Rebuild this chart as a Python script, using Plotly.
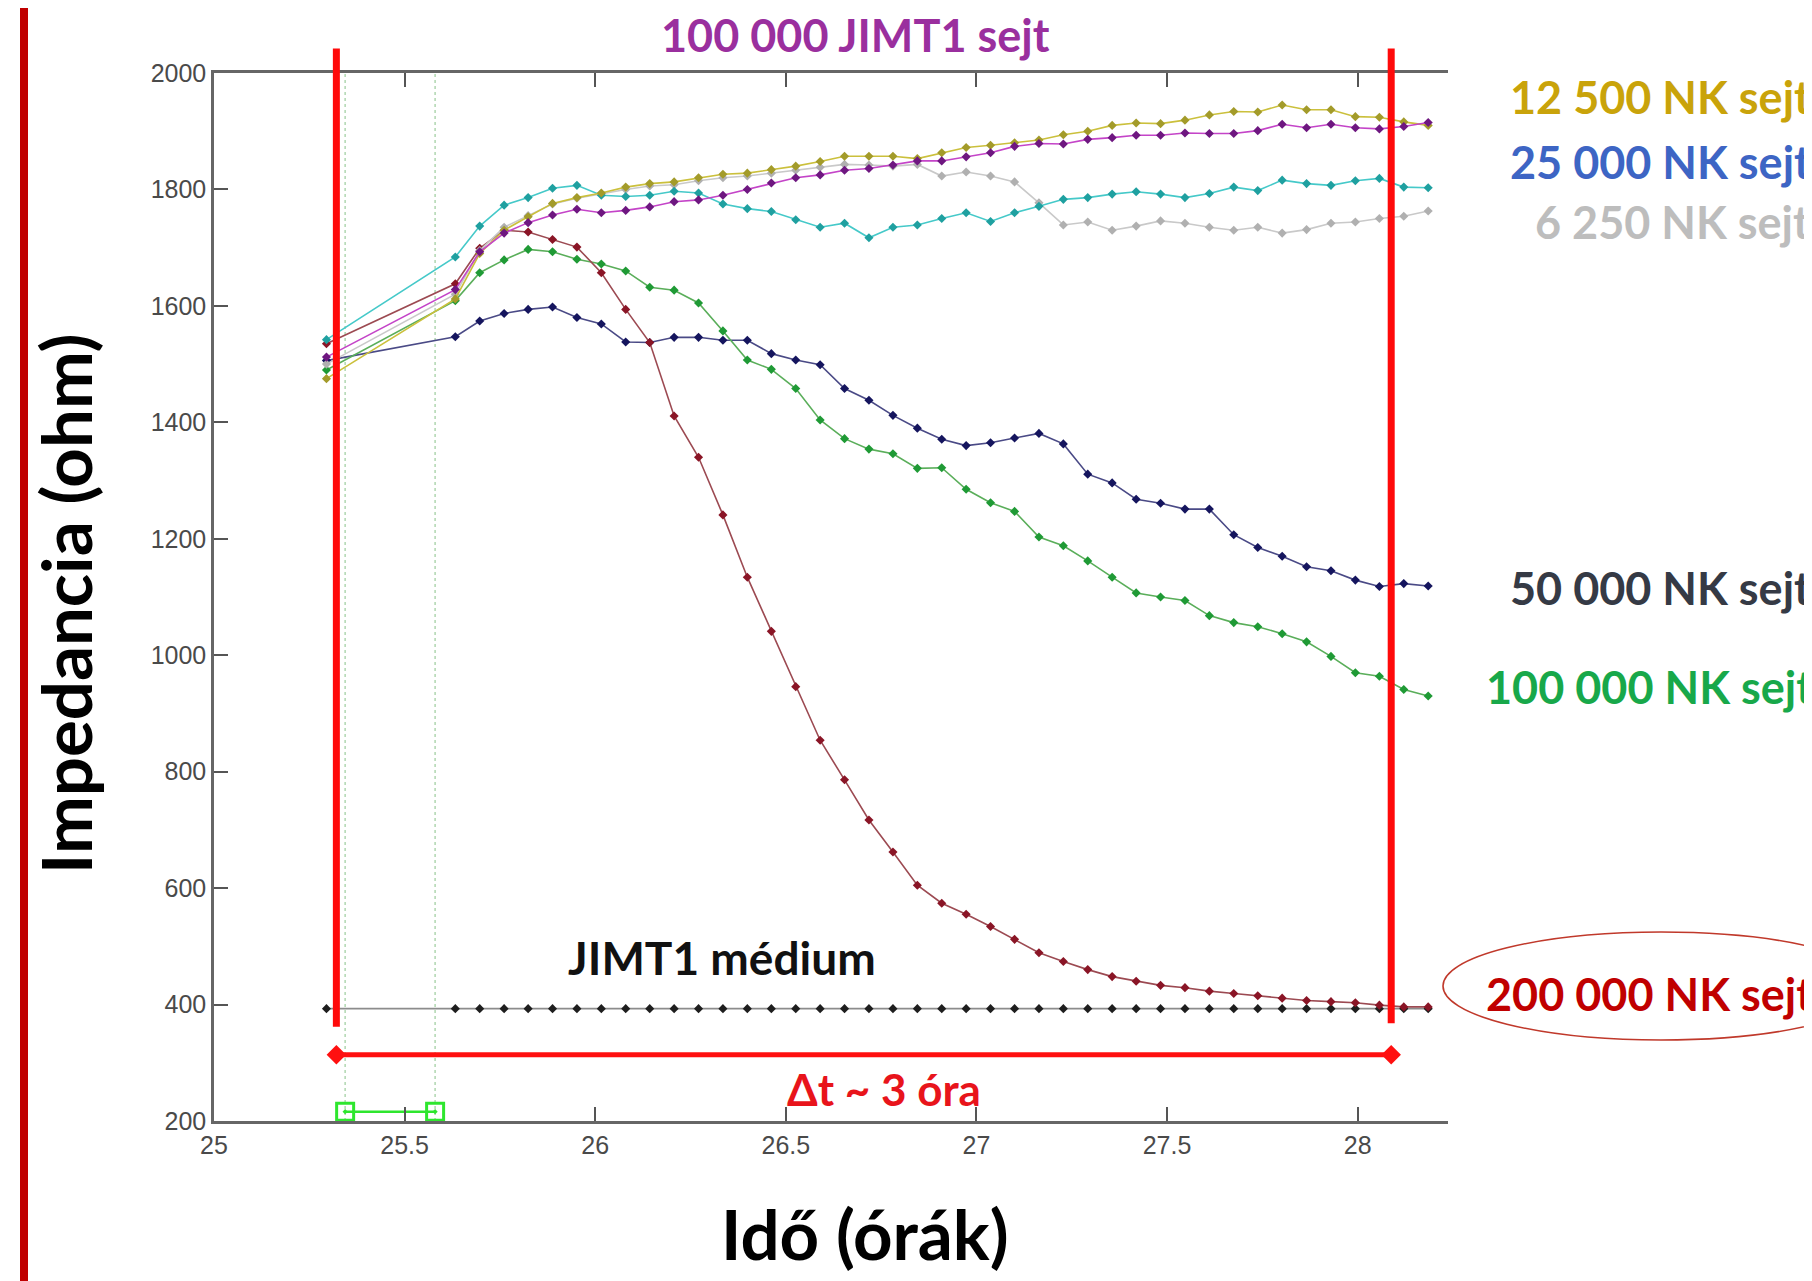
import plotly.graph_objects as go

# ---------------- data ----------------
time_h = [25.295,
          25.633, 25.697, 25.761, 25.824, 25.888, 25.952, 26.016, 26.080, 26.143, 26.207,
          26.271, 26.335, 26.399, 26.462, 26.526, 26.590, 26.654, 26.718, 26.781, 26.845,
          26.909, 26.973, 27.037, 27.100, 27.164, 27.228, 27.292, 27.356, 27.419, 27.483,
          27.547, 27.611, 27.675, 27.738, 27.802, 27.866, 27.930, 27.994, 28.057, 28.121,
          28.185]

nk_12500 = [1475,
            1612, 1690, 1730, 1753, 1776, 1786, 1794, 1804, 1810, 1813,
            1820, 1826, 1828, 1834, 1840, 1848, 1857, 1857, 1857, 1853,
            1863, 1872, 1876, 1880, 1885, 1894, 1900, 1910, 1914, 1913,
            1919, 1928, 1934, 1933, 1945, 1937, 1937, 1925, 1924, 1916,
            1910]
jimt1_only = [1512,
              1628, 1693, 1725, 1743, 1756, 1766, 1760, 1764, 1770, 1779,
              1782, 1790, 1800, 1811, 1820, 1825, 1833, 1836, 1842, 1849,
              1849, 1856, 1863, 1874, 1879, 1878, 1886, 1889, 1893, 1893,
              1897, 1896, 1896, 1901, 1912, 1906, 1912, 1906, 1904, 1908,
              1915]
nk_25000 = [1542,
            1684, 1737, 1773, 1786, 1802, 1807, 1790, 1788, 1790, 1797,
            1794, 1775, 1767, 1762, 1748, 1735, 1742, 1717, 1735, 1739,
            1750, 1760, 1745, 1760, 1771, 1783, 1786, 1792, 1796, 1792,
            1786, 1793, 1804, 1798, 1816, 1810, 1807, 1815, 1819, 1804,
            1803]
nk_6250 = [1500,
           1620, 1695, 1735, 1755, 1775, 1785, 1793, 1800, 1806, 1808,
           1815, 1820, 1823, 1828, 1833, 1838, 1843, 1842, 1840, 1843,
           1823, 1830, 1823, 1813, 1777, 1739, 1744, 1730, 1737, 1746,
           1742, 1735, 1730, 1735, 1725, 1731, 1742, 1744, 1750, 1754,
           1763]
nk_50000 = [1506,
            1547, 1574, 1587, 1594, 1598, 1580, 1569, 1538, 1537, 1546,
            1546, 1541, 1541, 1518, 1507, 1499, 1458, 1438, 1412, 1390,
            1371, 1360, 1365, 1373, 1381, 1363, 1311, 1296, 1268, 1261,
            1251, 1251, 1207, 1185, 1170, 1152, 1145, 1129, 1118, 1123,
            1119]
nk_100000 = [1490,
             1609, 1657, 1679, 1697, 1693, 1680, 1672, 1660, 1632, 1627,
             1605, 1557, 1507, 1491, 1458, 1404, 1372, 1354, 1346, 1321,
             1322, 1285, 1262, 1247, 1203, 1188, 1162, 1134, 1107, 1100,
             1094, 1068, 1056, 1049, 1037, 1023, 998, 970, 964, 941,
             930]
nk_200000 = [1535,
             1638, 1699, 1730, 1727, 1714, 1701, 1657, 1594, 1537, 1411,
             1340, 1241, 1134, 1041, 946, 854, 786, 717, 662, 605,
             574, 555, 534, 512, 489, 474, 460, 448, 440, 433,
             429, 423, 419, 415, 411, 407, 405, 403, 399, 396,
             396]
medium_only = [393,
               393, 393, 393, 393, 393, 393, 393, 393, 393, 393,
               393, 393, 393, 393, 393, 393, 393, 393, 393, 393,
               393, 393, 393, 393, 393, 393, 393, 393, 393, 393,
               393, 393, 393, 393, 393, 393, 393, 393, 393, 393,
               393]

x_ticks = [25, 25.5, 26, 26.5, 27, 27.5, 28]
x_tick_text = ["25", "25.5", "26", "26.5", "27", "27.5", "28"]
y_ticks = [200, 400, 600, 800, 1000, 1200, 1400, 1600, 1800, 2000]
y_tick_text = ["200", "400", "600", "800", "1000", "1200", "1400", "1600", "1800", "2000"]

X_RANGE = [25, 28.237]
Y_RANGE = [200, 2000]

window_t = [25.321, 28.088]          # red vertical markers / Delta t arrow
window_top = 2042
window_bottom = [362, 368]
arrow_level = [314, 314]
marker_t = [25.344, 25.580]          # green dotted cursors
marker_level = [216, 216]

# ---------------- layout geometry (page pixels) ----------------
PAGE_W, PAGE_H = 1812, 1281
BODY = 8                               # default page body margin
W, H = PAGE_W - BODY, PAGE_H - BODY
PLOT_L, PLOT_R, PLOT_T, PLOT_B = 214, 1448, 73, 1121   # plot box on the page


def px(x):
    return (x - PLOT_L) / (PLOT_R - PLOT_L)


def py(y):
    return (PLOT_B - y) / (PLOT_B - PLOT_T)


def yfrac(v):
    return (v - Y_RANGE[0]) / (Y_RANGE[1] - Y_RANGE[0])


fig = go.Figure()

series = [
    (medium_only, "#8c8c8c", "#1e1e1e", "JIMT1 médium"),
    (nk_50000, "#4a4a86", "#15155e", "50 000 NK"),
    (nk_100000, "#5aae5a", "#1f9a35", "100 000 NK"),
    (nk_200000, "#9c4a52", "#8a1526", "200 000 NK"),
    (nk_6250, "#c9c9c9", "#b0b0b0", "6 250 NK"),
    (nk_25000, "#45c9c9", "#1fa0a0", "25 000 NK"),
    (nk_12500, "#cbc03c", "#a39b2a", "12 500 NK"),
    (jimt1_only, "#c444c8", "#6e1780", "100 000 JIMT1"),
]

# green dotted cursors
for t in marker_t:
    fig.add_trace(go.Scatter(x=[t, t], y=Y_RANGE, mode="lines",
                             line=dict(color="#b5d9b5", width=1.6, dash="dot"),
                             hoverinfo="skip", showlegend=False))

for vals, lc, mc, name in series:
    fig.add_trace(go.Scatter(
        x=time_h, y=vals, mode="lines+markers", name=name,
        line=dict(color=lc, width=1.6),
        marker=dict(symbol="diamond", size=7, color=mc),
        showlegend=False))

# Delta t arrow
fig.add_trace(go.Scatter(x=window_t, y=arrow_level, mode="lines+markers",
                         line=dict(color="#ff1010", width=5),
                         marker=dict(symbol="diamond", size=15, color="#ff1010"),
                         cliponaxis=False, showlegend=False))

# green squares cursor bar
fig.add_trace(go.Scatter(x=marker_t, y=marker_level, mode="lines+markers",
                         line=dict(color="#2ee62e", width=2.5),
                         marker=dict(symbol="square-open-dot", size=17,
                                     color="#2ee62e", line=dict(width=3, color="#2ee62e")),
                         cliponaxis=False, showlegend=False))

shapes = []
# red vertical window lines
for t, vb in zip(window_t, window_bottom):
    shapes.append(dict(type="line", xref="x", yref="paper",
                       x0=t, x1=t, y0=yfrac(vb), y1=yfrac(window_top),
                       line=dict(color="#ff0a0a", width=7)))
# left dark red bar
shapes.append(dict(type="line", xref="paper", yref="paper",
                   x0=px(24), x1=px(24), y0=py(PAGE_H + 5), y1=py(-5),
                   line=dict(color="#c00000", width=8)))
# ellipse around 200 000 NK label
shapes.append(dict(type="circle", xref="paper", yref="paper",
                   x0=px(1443), x1=px(1879), y0=py(1040), y1=py(932),
                   line=dict(color="#c0392b", width=1.6)))

FONT = "Lato"
ann = []


def label(text, x, y, color, size, xanchor="center", angle=0):
    ann.append(dict(text="<b>" + text + "</b>", x=px(x), y=py(y), xref="paper", yref="paper",
                    showarrow=False, xanchor=xanchor, yanchor="middle", textangle=angle,
                    font=dict(family=FONT, size=size, color=color)))


label("100 000 JIMT1 sejt", 855, 35, "#9a2f9e", 45)
label("12 500 NK sejt", 1508, 97, "#c9a30a", 45, "left")
label("25 000 NK sejt", 1508, 162, "#3d65c4", 45, "left")
label("6 250 NK sejt", 1533, 222, "#bdbdbd", 45, "left")
label("50 000 NK sejt", 1508, 588, "#353a45", 45, "left")
label("100 000 NK sejt", 1484, 687, "#18a84a", 45, "left")
label("200 000 NK sejt", 1484, 994, "#c00000", 45, "left")
label("JIMT1 médium", 722, 957, "#111111", 46)
label("Δt ~ 3 óra", 884, 1089, "#e8141b", 44)
label("Idő (órák)", 865, 1234, "#000000", 69)
label("Impedancia (ohm)", 65, 604, "#000000", 69, angle=-90)

fig.update_layout(
    width=W, height=H, autosize=False,
    margin=dict(l=PLOT_L - BODY, r=W - (PLOT_R - BODY), t=PLOT_T - BODY,
                b=H - (PLOT_B - BODY), pad=0),
    paper_bgcolor="white", plot_bgcolor="white",
    shapes=shapes, annotations=ann, showlegend=False,
    xaxis=dict(range=X_RANGE, tickvals=x_ticks, ticktext=x_tick_text,
               ticks="inside", ticklen=14, tickwidth=2, tickcolor="#555555",
               showline=True, linecolor="#666666", linewidth=2.5, mirror="ticks",
               showgrid=False, zeroline=False,
               tickfont=dict(family="Liberation Sans", size=25, color="#4a4a4a")),
    yaxis=dict(range=Y_RANGE, tickvals=y_ticks, ticktext=y_tick_text,
               ticks="inside", ticklen=14, tickwidth=2, tickcolor="#555555",
               showline=True, linecolor="#666666", linewidth=2.5, mirror=False,
               showgrid=False, zeroline=False,
               tickfont=dict(family="Liberation Sans", size=25, color="#4a4a4a")),
)

fig.write_html("out.html")
